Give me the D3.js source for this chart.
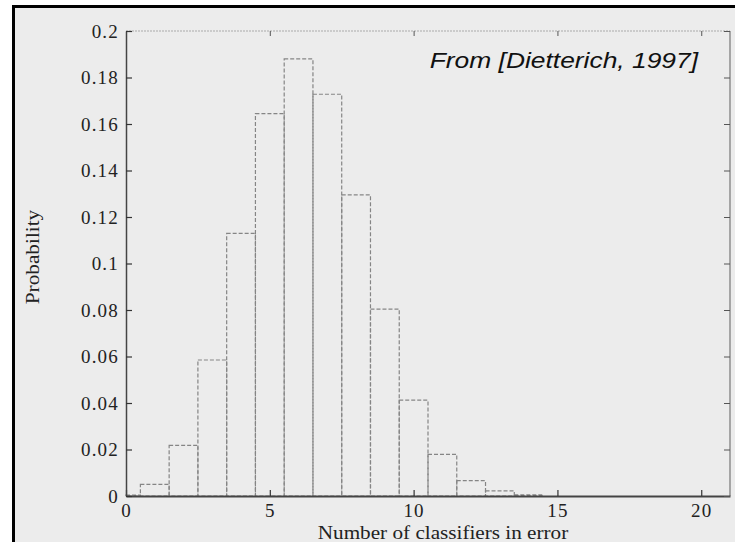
<!DOCTYPE html>
<html>
<head>
<meta charset="utf-8">
<script src="https://cdn.jsdelivr.net/npm/d3@7"></script>
<style>
  body { margin: 0; background: #fff; }
  svg { display: block; }
</style>
</head>
<body>
<script>
// number of classifiers in error (bar centres) and their probability
const counts = [0, 1, 2, 3, 4, 5, 6, 7, 8, 9, 10, 11, 12, 13, 14];
const probs = [0.0004, 0.005, 0.0218, 0.0585, 0.113, 0.1645, 0.188, 0.1728, 0.1295, 0.0804, 0.0412, 0.0179, 0.0066, 0.0022, 0.0005];
const xTicks = [0, 5, 10, 15, 20];
const yTicks = [0, 0.02, 0.04, 0.06, 0.08, 0.1, 0.12, 0.14, 0.16, 0.18, 0.2];

const width = 735, height = 542;
const margin = {top: 31, right: 5, bottom: 46, left: 126};

const svg = d3.select("body").append("svg")
  .attr("width", width)
  .attr("height", height);

// grey panel with the thick black frame (runs off the right / bottom)
svg.append("rect")
  .attr("x", 13.5).attr("y", 6.5)
  .attr("width", width).attr("height", height)
  .attr("fill", "#ececec")
  .attr("stroke", "#000")
  .attr("stroke-width", 3);

const x = d3.scaleLinear().domain([0, 21]).range([margin.left, width - margin.right]);
const y = d3.scaleLinear().domain([0, 0.2]).range([height - margin.bottom, margin.top]);

const serif = "'Liberation Serif', 'Times New Roman', serif";

// bars
svg.append("g").selectAll("rect")
  .data(counts.map((c, i) => ({c: c, p: probs[i]})))
  .enter()
  .append("rect")
  .attr("x", d => x(Math.max(0, d.c - 0.5)))
  .attr("y", d => y(d.p))
  .attr("width", d => x(d.c + 0.5) - x(Math.max(0, d.c - 0.5)))
  .attr("height", d => y(0) - y(d.p))
  .attr("fill", "none")
  .attr("stroke", "#858585")
  .attr("stroke-width", 1.2)
  .attr("stroke-dasharray", "4,2");

// box: top + right (light), left + bottom (dark)
svg.append("line")
  .attr("x1", x(0)).attr("x2", x(21)).attr("y1", y(0.2)).attr("y2", y(0.2))
  .attr("stroke", "#aaa").attr("stroke-width", 1).attr("stroke-dasharray", "2,1");
svg.append("line")
  .attr("x1", x(21)).attr("x2", x(21)).attr("y1", y(0.2)).attr("y2", y(0))
  .attr("stroke", "#777").attr("stroke-width", 1.2);

const xAxis = d3.axisBottom(x).tickValues(xTicks).tickSize(-6).tickPadding(8).tickSizeOuter(0);
const gx = svg.append("g")
  .attr("transform", `translate(0,${y(0)})`)
  .call(xAxis);
gx.select(".domain").attr("stroke", "#444").attr("stroke-width", 2);
gx.selectAll(".tick line").attr("stroke", "#333").attr("stroke-width", 1.2);
gx.selectAll("text")
  .style("font-family", serif).style("font-size", "19px").style("letter-spacing", "1.2px")
  .attr("fill", "#222");

const xTop = d3.axisTop(x).tickValues(xTicks).tickSize(-5).tickFormat("").tickSizeOuter(0);
const gxt = svg.append("g")
  .attr("transform", `translate(0,${y(0.2)})`)
  .call(xTop);
gxt.select(".domain").remove();
gxt.selectAll(".tick line").attr("stroke", "#555");

const yAxis = d3.axisLeft(y).tickValues(yTicks).tickSize(-6).tickPadding(7).tickSizeOuter(0)
  .tickFormat(d => d === 0 ? "0" : String(+d.toFixed(2)));
const gy = svg.append("g")
  .attr("transform", `translate(${x(0)},0)`)
  .call(yAxis);
gy.select(".domain").attr("stroke", "#444").attr("stroke-width", 1.5);
gy.selectAll(".tick line").attr("stroke", "#333").attr("stroke-width", 1.2);
gy.selectAll("text")
  .style("font-family", serif).style("font-size", "19px").style("letter-spacing", "1.2px")
  .attr("fill", "#222");

const yRight = d3.axisRight(y).tickValues(yTicks).tickSize(-6).tickFormat("").tickSizeOuter(0);
const gyr = svg.append("g")
  .attr("transform", `translate(${x(21)},0)`)
  .call(yRight);
gyr.select(".domain").remove();
gyr.selectAll(".tick line").attr("stroke", "#555");

// axis titles (the scanned original is a bit stretched sideways)
svg.append("text")
  .attr("transform", "translate(443,539) scale(1.115,1)")
  .attr("text-anchor", "middle")
  .style("font-family", serif)
  .style("font-size", "19px")
  .attr("fill", "#222")
  .text("Number of classifiers in error");

svg.append("text")
  .attr("transform", "translate(39,257) rotate(-90) scale(1.12,1)")
  .attr("text-anchor", "middle")
  .style("font-family", serif)
  .style("font-size", "19px")
  .attr("fill", "#222")
  .text("Probability");

svg.append("text")
  .attr("transform", "translate(698,68) scale(1.2,1)")
  .attr("text-anchor", "end")
  .style("font-family", "'Liberation Sans', Arial, sans-serif")
  .style("font-style", "italic")
  .style("font-size", "22px")
  .attr("fill", "#111")
  .text("From [Dietterich, 1997]");
</script>
</body>
</html>
